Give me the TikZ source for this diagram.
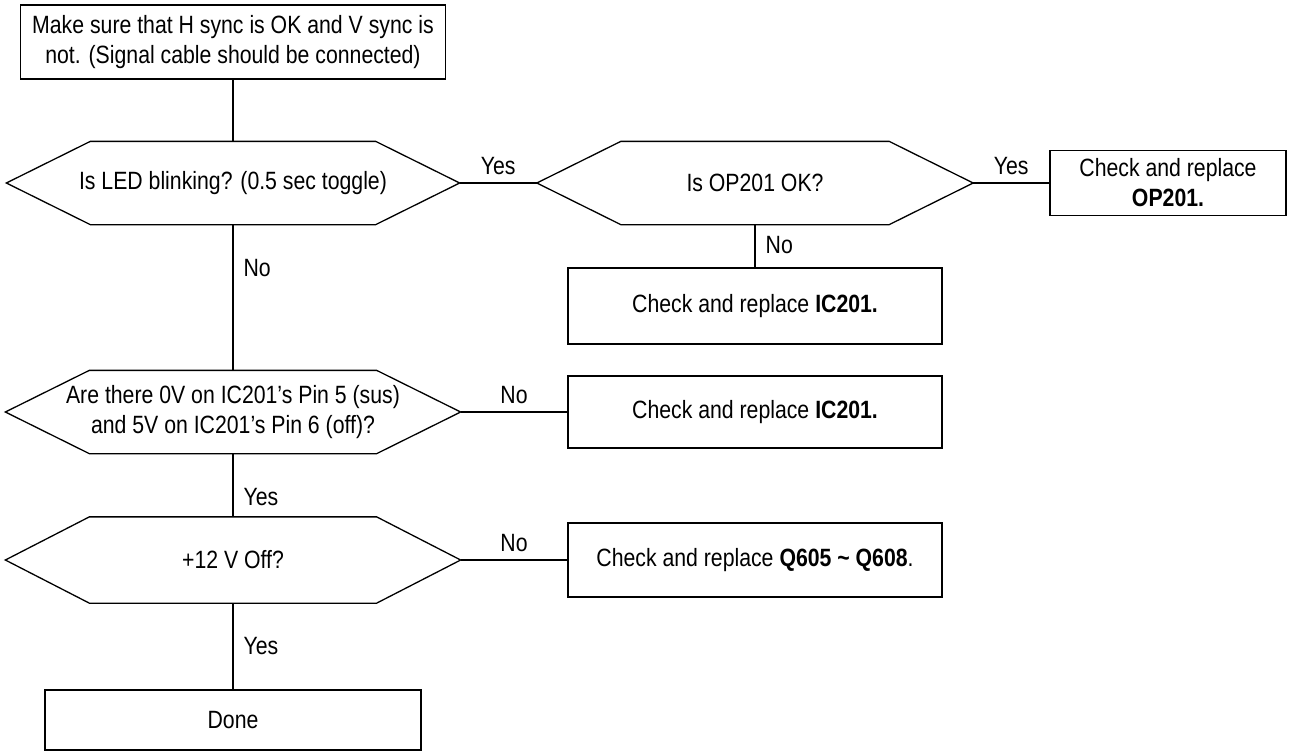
\documentclass[tikz,border=0pt]{standalone}
\usepackage{fontspec}
\setmainfont{Liberation Sans}[FakeStretch=0.85]
\usetikzlibrary{positioning, calc}

% flat hexagon drawn round a (frameless) decision node
\newcommand{\hexframe}[1]{%
  \draw ($(#1.north west)+(84,0)$) -- ($(#1.north east)+(-84,0)$) -- (#1.east)
     -- ($(#1.south east)+(-84,0)$) -- ($(#1.south west)+(84,0)$) -- (#1.west) -- cycle;}

\begin{document}
\begin{tikzpicture}[x=1pt, y=-1pt, line width=1.3pt,
  font=\fontsize{25}{30}\selectfont,
  box/.style={draw, rectangle, align=center, inner sep=0pt},
  decision/.style={rectangle, align=center, inner sep=0pt, minimum height=82pt},
  lbl/.style={inner sep=2pt}]
 \useasboundingbox (0,0) rectangle (1292,753);

 \node[box, minimum width=425pt, minimum height=74pt] (start) at (233,42)
   {Make sure that H sync is OK and V sync is\\not. (Signal cable should be connected)};

 \node[decision, minimum width=452pt] (led) at (233,183) {Is LED blinking? (0.5 sec toggle)};
 \node[decision, minimum width=435pt] (opok) at (755,183) {Is OP201 OK?};
 \node[box, minimum width=236pt, minimum height=65pt] (chkop) at (1168,183)
   {Check and replace\\\textbf{OP201.}};
 \node[box, minimum width=374pt, minimum height=76pt] (chkic1) at (755,306)
   {Check and replace \textbf{IC201.}};

 \node[decision, minimum width=454pt] (pins) at (233,412)
   {Are there 0V on IC201’s Pin 5 (sus)\\and 5V on IC201’s Pin 6 (off)?};
 \node[box, minimum width=374pt, minimum height=72pt] (chkic2) at (755,412)
   {Check and replace \textbf{IC201.}};

 \node[decision, minimum width=454pt, minimum height=85pt] (twelve) at (233,560) {+12 V Off?};
 \node[box, minimum width=374pt, minimum height=74pt] (chkq) at (755,560)
   {Check and replace \textbf{Q605 \textasciitilde\ Q608}.};

 \node[box, minimum width=376pt, minimum height=60pt] (done) at (233,720) {Done};

 \hexframe{led}
 \hexframe{opok}
 \hexframe{pins}
 \hexframe{twelve}

 \draw (start) -- (led);
 \draw (led) -- node[above, lbl, yshift=6pt] {Yes} (opok);
 \draw (opok) -- node[above, lbl, yshift=6pt] {Yes} (chkop);
 \draw (opok) -- node[right, lbl, xshift=8pt, pos=0.48] {No} (chkic1);
 \draw (led) -- node[right, lbl, xshift=8pt, pos=0.3] {No} (pins);
 \draw (pins) -- node[above, lbl, yshift=6pt] {No} (chkic2);
 \draw (pins) -- node[right, lbl, xshift=8pt, pos=0.68] {Yes} (twelve);
 \draw (twelve) -- node[above, lbl, yshift=6pt] {No} (chkq);
 \draw (twelve) -- node[right, lbl, xshift=8pt] {Yes} (done);
\end{tikzpicture}
\end{document}
